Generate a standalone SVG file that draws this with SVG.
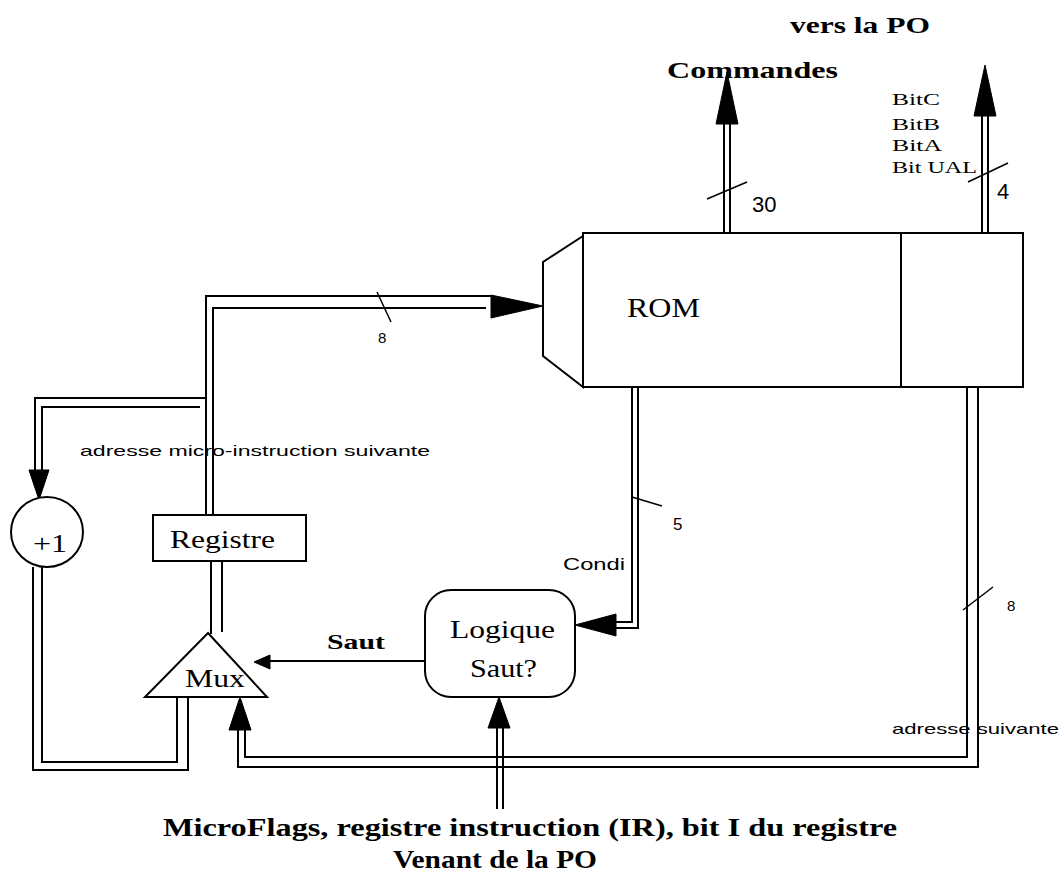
<svg xmlns="http://www.w3.org/2000/svg" width="1059" height="879" viewBox="0 0 1059 879">
<style>
.w{fill:none;stroke:#000;stroke-width:2}
.box{fill:#fff;stroke:#000;stroke-width:2}
.ah{fill:#000;stroke:#000;stroke-width:1}
.tk{fill:none;stroke:#000;stroke-width:1.5}
.serif{font-family:"Liberation Serif","Times New Roman",serif;fill:#000}
.bold{font-family:"Liberation Serif","Times New Roman",serif;font-weight:bold;fill:#000}
.sans{font-family:"Liberation Sans",Arial,sans-serif;fill:#000}
</style>
<rect width="1059" height="879" fill="#fff"/>
<g id="connectors">
  <!-- Commandes bus -->
  <path class="w" d="M724 233V118M730 233V118"/>
  <polygon class="ah" points="727,72 738,124 716,124"/>
  <path class="tk" d="M707 199L747 182"/>
  <!-- vers la PO bus -->
  <path class="w" d="M982 233V108M988 233V108"/>
  <polygon class="ah" points="985,65 996,116 974,116"/>
  <path class="tk" d="M968 182L1008 163"/>
  <!-- top address bus to ROM -->
  <path class="w" d="M206 515V296H492"/>
  <path class="w" d="M213 515V308H486"/>
  <polygon class="ah" points="543,306 491,295 491,318"/>
  <path class="tk" d="M377 292L391 322"/>
  <!-- branch to +1 -->
  <path class="w" d="M206 398H35V478"/>
  <path class="w" d="M200 407H42V478"/>
  <polygon class="ah" points="39,500 29,470 49,470"/>
  <!-- +1 to Mux -->
  <path class="w" d="M33 567V770H188V697"/>
  <path class="w" d="M42 567V762H177V697"/>
  <!-- Registre to Mux -->
  <path class="w" d="M211 561V634M222 561V632"/>
  <!-- Saut -->
  <path class="w" d="M425 661H262"/>
  <polygon class="ah" points="254,662 270,655 270,669"/>
  <!-- Condi bus -->
  <path class="w" d="M632 387V622H610M638 387V628H610"/>
  <polygon class="ah" points="575,625 616,614 616,636"/>
  <path class="tk" d="M632 497L662 506"/>
  <!-- adresse suivante bus -->
  <path class="w" d="M967 387V757H245V722"/>
  <path class="w" d="M978 387V767H238V722"/>
  <polygon class="ah" points="240,697 251,730 229,730"/>
  <path class="tk" d="M963 610L993 587"/>
  <!-- MicroFlags input -->
  <path class="w" d="M497 809V722M503 809V722"/>
  <polygon class="ah" points="499,697 510,728 488,728"/>
</g>
<g id="rom">
  <path class="box" d="M583 236L543 262V356L583 387Z"/>
  <rect class="box" x="583" y="233" width="440" height="154"/>
  <path class="w" d="M901 233V387"/>
  <text class="serif" x="627" y="317" font-size="28" textLength="73" lengthAdjust="spacingAndGlyphs">ROM</text>
</g>
<g id="plus1">
  <ellipse class="box" cx="47" cy="532" rx="36" ry="35"/>
  <text class="serif" x="33" y="552" font-size="26" textLength="34" lengthAdjust="spacingAndGlyphs">+1</text>
</g>
<g id="registre">
  <rect class="box" x="153" y="515" width="153" height="46"/>
  <text class="serif" x="170" y="548" font-size="26" textLength="105" lengthAdjust="spacingAndGlyphs">Registre</text>
</g>
<g id="mux">
  <polygon class="box" points="208,633 267,697 145,697"/>
  <text class="serif" x="185" y="687" font-size="26" textLength="60" lengthAdjust="spacingAndGlyphs">Mux</text>
</g>
<g id="logique">
  <rect class="box" x="425" y="590" width="150" height="107" rx="26" ry="26"/>
  <text class="serif" x="450" y="638" font-size="26" textLength="105" lengthAdjust="spacingAndGlyphs">Logique</text>
  <text class="serif" x="470" y="677" font-size="26" textLength="67" lengthAdjust="spacingAndGlyphs">Saut?</text>
</g>
<g id="labels">
  <text class="bold" x="790" y="33" font-size="24" textLength="140" lengthAdjust="spacingAndGlyphs">vers la PO</text>
  <text class="bold" x="667" y="78" font-size="24" textLength="171" lengthAdjust="spacingAndGlyphs">Commandes</text>
  <text class="serif" x="892" y="105" font-size="17" textLength="48" lengthAdjust="spacingAndGlyphs">BitC</text>
  <text class="serif" x="892" y="130" font-size="17" textLength="48" lengthAdjust="spacingAndGlyphs">BitB</text>
  <text class="serif" x="892" y="151" font-size="17" textLength="50" lengthAdjust="spacingAndGlyphs">BitA</text>
  <text class="serif" x="892" y="173" font-size="17" textLength="85" lengthAdjust="spacingAndGlyphs">Bit UAL</text>
  <text class="sans" x="752" y="212" font-size="22">30</text>
  <text class="sans" x="997" y="199" font-size="22">4</text>
  <text class="sans" x="378" y="343" font-size="15">8</text>
  <text class="sans" x="80" y="456" font-size="15" textLength="350" lengthAdjust="spacingAndGlyphs">adresse micro-instruction suivante</text>
  <text class="sans" x="673" y="530" font-size="17">5</text>
  <text class="sans" x="563" y="570" font-size="16" textLength="62" lengthAdjust="spacingAndGlyphs">Condi</text>
  <text class="bold" x="327" y="649" font-size="22" textLength="58" lengthAdjust="spacingAndGlyphs">Saut</text>
  <text class="sans" x="1007" y="611" font-size="15">8</text>
  <text class="sans" x="892" y="734" font-size="15" textLength="167" lengthAdjust="spacingAndGlyphs">adresse suivante</text>
  <text class="bold" x="163" y="836" font-size="25" textLength="734" lengthAdjust="spacingAndGlyphs">MicroFlags, registre instruction (IR), bit I du registre</text>
  <text class="bold" x="393" y="868" font-size="25" textLength="204" lengthAdjust="spacingAndGlyphs">Venant de la PO</text>
</g>
</svg>
